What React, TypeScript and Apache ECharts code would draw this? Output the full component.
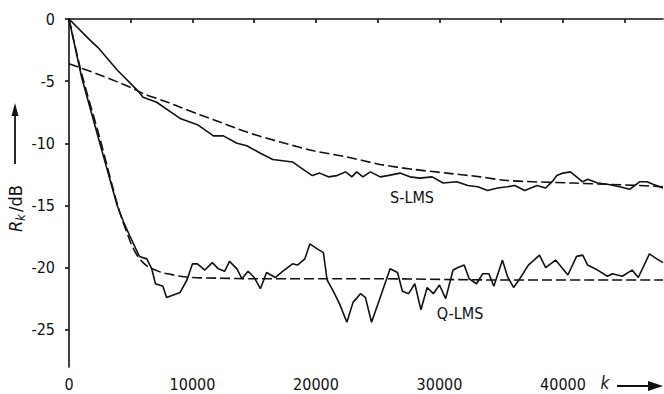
import React, { useEffect, useRef } from "react";
import * as echarts from "echarts";

// k-axis ticks and dB ticks
const kLabelTicks = [0, 10000, 20000, 30000, 40000];
const kTickMarks = [0, 5000, 10000, 15000, 20000, 25000, 30000, 35000, 40000, 45000];
const dbTicks = [0, -5, -10, -15, -20, -25];

// S-LMS measured (solid)
const sLmsK = [0, 1700, 2350, 3900, 5500, 6000, 7100, 8400, 9000, 10400, 11700, 12500, 13600, 14400, 15500, 16500, 18100, 19100, 19700, 20300, 21000, 21700, 22400, 22900, 23300, 23800, 24400, 25200, 25800, 26800, 27600, 28400, 29400, 30300, 31400, 32300, 33100, 33900, 34700, 35500, 36100, 36900, 37900, 38600, 39200, 39500, 40000, 40600, 41600, 42000, 42800, 43600, 44600, 45400, 46200, 46800, 47300, 48100];
const sLmsDb = [0, -1.7, -2.3, -4.1, -5.7, -6.3, -6.7, -7.6, -8.0, -8.5, -9.4, -9.4, -10.0, -10.2, -10.8, -11.3, -11.5, -12.2, -12.6, -12.4, -12.7, -12.6, -12.3, -12.7, -12.3, -12.7, -12.3, -12.7, -12.6, -12.4, -12.7, -12.8, -12.7, -13.2, -13.1, -13.4, -13.5, -13.8, -13.6, -13.5, -13.4, -13.8, -13.4, -13.6, -13.0, -12.6, -12.4, -12.3, -13.1, -12.9, -13.2, -13.3, -13.5, -13.7, -13.1, -13.1, -13.3, -13.6];

// S-LMS theory (dashed)
const sTheoryK = [0, 2500, 5200, 6000, 8000, 9000, 10600, 11700, 14400, 17100, 19800, 22500, 25200, 27900, 30600, 33300, 35500, 40800, 46200, 48100];
const sTheoryDb = [-3.6, -4.5, -5.6, -6.0, -6.7, -7.1, -7.7, -8.1, -9.1, -9.9, -10.6, -11.1, -11.7, -12.1, -12.4, -12.7, -13.0, -13.2, -13.4, -13.5];

// Q-LMS measured (solid)
const qLmsK = [0, 1000, 2300, 3000, 3900, 4400, 4900, 5700, 6300, 6700, 7000, 7600, 7900, 9000, 9550, 10000, 10400, 11000, 11600, 12100, 12600, 13000, 13600, 14000, 14500, 15000, 15500, 16000, 16700, 17300, 18100, 18500, 19100, 19500, 20100, 20600, 20900, 21400, 21900, 22500, 23000, 23600, 24000, 24500, 25200, 26000, 26600, 27000, 27500, 28000, 28500, 29000, 29500, 30000, 30500, 31100, 31500, 32000, 32400, 33000, 33500, 34000, 34400, 35100, 35500, 36000, 36500, 37200, 38100, 38600, 39400, 40400, 41100, 41600, 42000, 42800, 43600, 44000, 44800, 45600, 46100, 47000, 47600, 48100];
const qLmsDb = [0, -4.6, -9.3, -11.8, -15.0, -16.3, -17.4, -19.1, -19.3, -20.1, -21.3, -21.5, -22.4, -22.0, -21.0, -19.7, -19.7, -20.2, -19.6, -20.1, -20.3, -19.5, -20.1, -20.9, -20.3, -20.8, -21.7, -20.4, -20.8, -20.3, -19.7, -19.8, -19.3, -18.1, -18.5, -18.8, -21.0, -21.9, -22.9, -24.4, -22.8, -22.1, -22.4, -24.4, -22.4, -20.1, -20.4, -21.9, -22.1, -21.3, -23.4, -21.6, -22.1, -21.4, -22.5, -20.2, -20.0, -19.8, -20.9, -21.3, -20.5, -20.5, -21.5, -19.4, -20.7, -21.6, -20.9, -19.8, -19.0, -20.0, -19.4, -20.6, -19.1, -19.0, -19.8, -20.2, -20.7, -20.5, -20.7, -20.2, -20.8, -18.9, -19.3, -19.6];

// Q-LMS theory (dashed)
const qTheoryK = [0, 1000, 2500, 4000, 5000, 5500, 6000, 6500, 7000, 7500, 8000, 9000, 10000, 12000, 15000, 25000, 35000, 48100];
const qTheoryDb = [0, -4.3, -9.6, -15.2, -18.0, -19.0, -19.6, -20.0, -20.2, -20.4, -20.5, -20.7, -20.8, -20.85, -20.9, -20.9, -21.0, -21.0];

const zip = (xs: number[], ys: number[]) => xs.map((x, i) => [x, ys[i]]);

const FONT = "'DejaVu Sans Condensed', 'Liberation Sans Narrow', 'Liberation Sans', sans-serif";
const INK = "#111";

export default function App() {
  const ref = useRef<HTMLDivElement>(null);
  useEffect(() => {
    if (!ref.current) return;
    const chart = echarts.init(ref.current, undefined, { renderer: "svg" });
    const solid = { color: INK, width: 1.6 };
    const dashed = { color: INK, width: 1.6, type: [10, 4] as any };
    chart.setOption({
      animation: false,
      backgroundColor: "#fff",
      grid: { left: 69, top: 19, right: 1, bottom: 27, containLabel: false },
      xAxis: {
        type: "value",
        min: 0,
        max: 48100,
        axisLine: { show: true, lineStyle: { color: INK, width: 1.6 } },
        axisTick: { show: true, customValues: kTickMarks, length: 4, lineStyle: { color: INK, width: 1.6 } },
        axisLabel: {
          customValues: kLabelTicks,
          formatter: (v: number) => String(v),
          color: INK,
          fontSize: 16,
          fontFamily: FONT,
          margin: 9,
        },
        splitLine: { show: false },
      },
      yAxis: {
        type: "value",
        min: -28,
        max: 0,
        axisLine: { show: true, lineStyle: { color: INK, width: 1.6 } },
        axisTick: { show: true, customValues: dbTicks, length: 4, lineStyle: { color: INK, width: 1.6 } },
        axisLabel: {
          customValues: dbTicks,
          formatter: (v: number) => String(v),
          color: INK,
          fontSize: 16,
          fontFamily: FONT,
          margin: 14,
        },
        splitLine: { show: false },
      },
      series: [
        { type: "line", name: "S-LMS", data: zip(sLmsK, sLmsDb), showSymbol: false, lineStyle: solid },
        { type: "line", name: "S-LMS theory", data: zip(sTheoryK, sTheoryDb), showSymbol: false, smooth: 0.3, lineStyle: dashed },
        { type: "line", name: "Q-LMS", data: zip(qLmsK, qLmsDb), showSymbol: false, lineStyle: solid },
        { type: "line", name: "Q-LMS theory", data: zip(qTheoryK, qTheoryDb), showSymbol: false, smooth: 0.3, lineStyle: dashed },
      ],
      graphic: [
        {
          type: "group",
          x: 15,
          y: 232,
          rotation: Math.PI / 2,
          children: [
            { type: "text", x: 0, y: 0, style: { text: "R", fontSize: 18, fontStyle: "italic", fontFamily: FONT, fill: INK, align: "left", verticalAlign: "middle" } },
            { type: "text", x: 11, y: 5, style: { text: "k", fontSize: 13, fontStyle: "italic", fontFamily: FONT, fill: INK, align: "left", verticalAlign: "middle" } },
            { type: "text", x: 20, y: 0, style: { text: "/dB", fontSize: 18, fontFamily: FONT, fill: INK, align: "left", verticalAlign: "middle" } },
          ],
        },
        { type: "line", shape: { x1: 15, y1: 164, x2: 15, y2: 112 }, style: { stroke: INK, lineWidth: 1.8 } },
        { type: "polygon", shape: { points: [[15, 103], [11.5, 116], [18.5, 116]] }, style: { fill: INK } },
        { type: "text", x: 605, y: 383, style: { text: "k", fontSize: 17, fontStyle: "italic", fontFamily: FONT, fill: INK, align: "center", verticalAlign: "middle" } },
        { type: "line", shape: { x1: 617, y1: 386, x2: 650, y2: 386 }, style: { stroke: INK, lineWidth: 1.8 } },
        { type: "polygon", shape: { points: [[663, 386], [648, 381], [648, 391]] }, style: { fill: INK } },
        { type: "text", x: 412, y: 197, style: { text: "S-LMS", fontSize: 16, fontFamily: FONT, fill: INK, align: "center", verticalAlign: "middle" } },
        { type: "text", x: 460, y: 313, style: { text: "Q-LMS", fontSize: 16, fontFamily: FONT, fill: INK, align: "center", verticalAlign: "middle" } },
      ],
    });
    return () => chart.dispose();
  }, []);
  return (
    <div
      ref={ref}
      style={{ position: "absolute", left: 0, top: 0, width: 664, height: 394, background: "#fff" }}
    />
  );
}
